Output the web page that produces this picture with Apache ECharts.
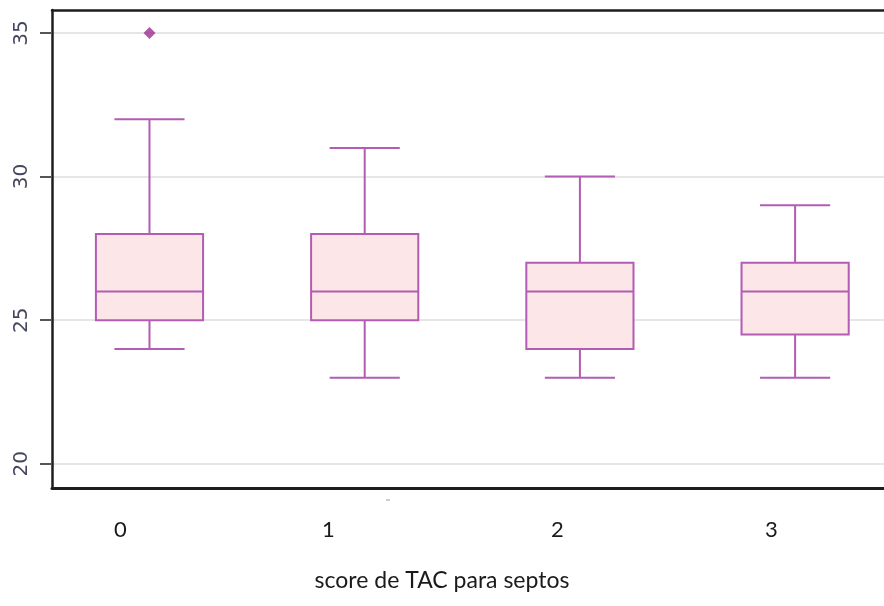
<!DOCTYPE html>
<html>
<head>
<meta charset="utf-8">
<script src="https://cdn.jsdelivr.net/npm/echarts@6/dist/echarts.min.js"></script>
<style>html,body{margin:0;padding:0;background:#fff}#c{width:884px;height:606px}</style>
</head>
<body>
<div id="c"></div>
<script>
const categories = ['0', '1', '2', '3'];
const minVals = [24, 23, 23, 23];
const q1Vals = [25, 25, 24, 24.5];
const medianVals = [26, 26, 26, 26];
const q3Vals = [28, 28, 27, 27];
const maxVals = [32, 31, 30, 29];
const outliers = [[0, 35]];
const yTicks = [20, 25, 30, 35];
const xTitle = 'score de TAC para septos';

const boxData = categories.map((c, i) => [i, minVals[i], q1Vals[i], medianVals[i], q3Vals[i], maxVals[i]]);
const labelX = [120, 328, 557, 771];

const STROKE = '#b35cb3';
const FILL = '#fde6e7';

function renderBox(params, api) {
  const x = api.value(0);
  const unit = api.size([1, 0])[0];
  const half = unit * 0.249;
  const capHalf = unit * 0.163;
  const pMin = api.coord([x, api.value(1)]);
  const pQ1 = api.coord([x, api.value(2)]);
  const pMed = api.coord([x, api.value(3)]);
  const pQ3 = api.coord([x, api.value(4)]);
  const pMax = api.coord([x, api.value(5)]);
  const cx = pMin[0];
  const ls = { stroke: STROKE, lineWidth: 2, fill: null };
  return {
    type: 'group',
    children: [
      { type: 'line', shape: { x1: cx, y1: pMax[1], x2: cx, y2: pQ3[1] }, style: ls },
      { type: 'line', shape: { x1: cx, y1: pQ1[1], x2: cx, y2: pMin[1] }, style: ls },
      { type: 'line', shape: { x1: cx - capHalf, y1: pMax[1], x2: cx + capHalf, y2: pMax[1] }, style: ls },
      { type: 'line', shape: { x1: cx - capHalf, y1: pMin[1], x2: cx + capHalf, y2: pMin[1] }, style: ls },
      { type: 'rect', shape: { x: cx - half, y: pQ3[1], width: half * 2, height: pQ1[1] - pQ3[1] },
        style: { fill: FILL, stroke: STROKE, lineWidth: 2 } },
      { type: 'line', shape: { x1: cx - half, y1: pMed[1], x2: cx + half, y2: pMed[1] }, style: ls }
    ]
  };
}

const chart = echarts.init(document.getElementById('c'), null, { renderer: 'canvas' });
chart.setOption({
  animation: false,
  backgroundColor: '#fff',
  grid: { left: 52, right: 0, top: 10, bottom: 118 },
  xAxis: [
    { type: 'value', min: -0.453, max: 3.413, position: 'bottom',
      axisLine: { show: true, onZero: false, lineStyle: { color: '#1e1e1e', width: 3 } },
      axisTick: { show: false }, axisLabel: { show: false }, splitLine: { show: false } },
    { type: 'value', min: -0.453, max: 3.413, position: 'top',
      axisLine: { show: true, onZero: false, lineStyle: { color: '#1e1e1e', width: 2.5 } },
      axisTick: { show: false }, axisLabel: { show: false }, splitLine: { show: false } }
  ],
  yAxis: {
    type: 'value', min: 19.16, max: 35.8, position: 'left',
    axisLine: { show: true, onZero: false, lineStyle: { color: '#1e1e1e', width: 2.5 } },
    axisTick: { show: true, length: 12, customValues: yTicks, lineStyle: { color: '#555', width: 2 } },
    axisLabel: { show: true, customValues: yTicks, rotate: 90, margin: 20, fontSize: 20,
      color: '#45465e', fontFamily: 'DejaVu Sans' },
    splitLine: { show: true, lineStyle: { color: '#e6e6e6', width: 2 } }
  },
  series: [
    { type: 'custom', renderItem: renderBox, data: boxData, encode: { x: 0, y: [1, 2, 3, 4, 5] }, z: 3 },
    { type: 'scatter', data: outliers, symbol: 'diamond', symbolSize: 12,
      itemStyle: { color: '#9c2d8f' }, z: 4 }
  ],
  graphic: [
    ...categories.map((c, i) => ({ type: 'text', left: labelX[i] - 6, top: 519,
      style: { text: c, fontSize: 22, fill: '#1a1a1a', fontFamily: 'Lato' } })),
    { type: 'text', left: 'center', top: 569,
      style: { text: xTitle, fontSize: 23, fill: '#1a1a1a', fontFamily: 'Lato' } },
    { type: 'line', shape: { x1: 386, y1: 500, x2: 390, y2: 500 }, style: { stroke: '#bbb', lineWidth: 1.5 } }
  ]
});
</script>
</body>
</html>
